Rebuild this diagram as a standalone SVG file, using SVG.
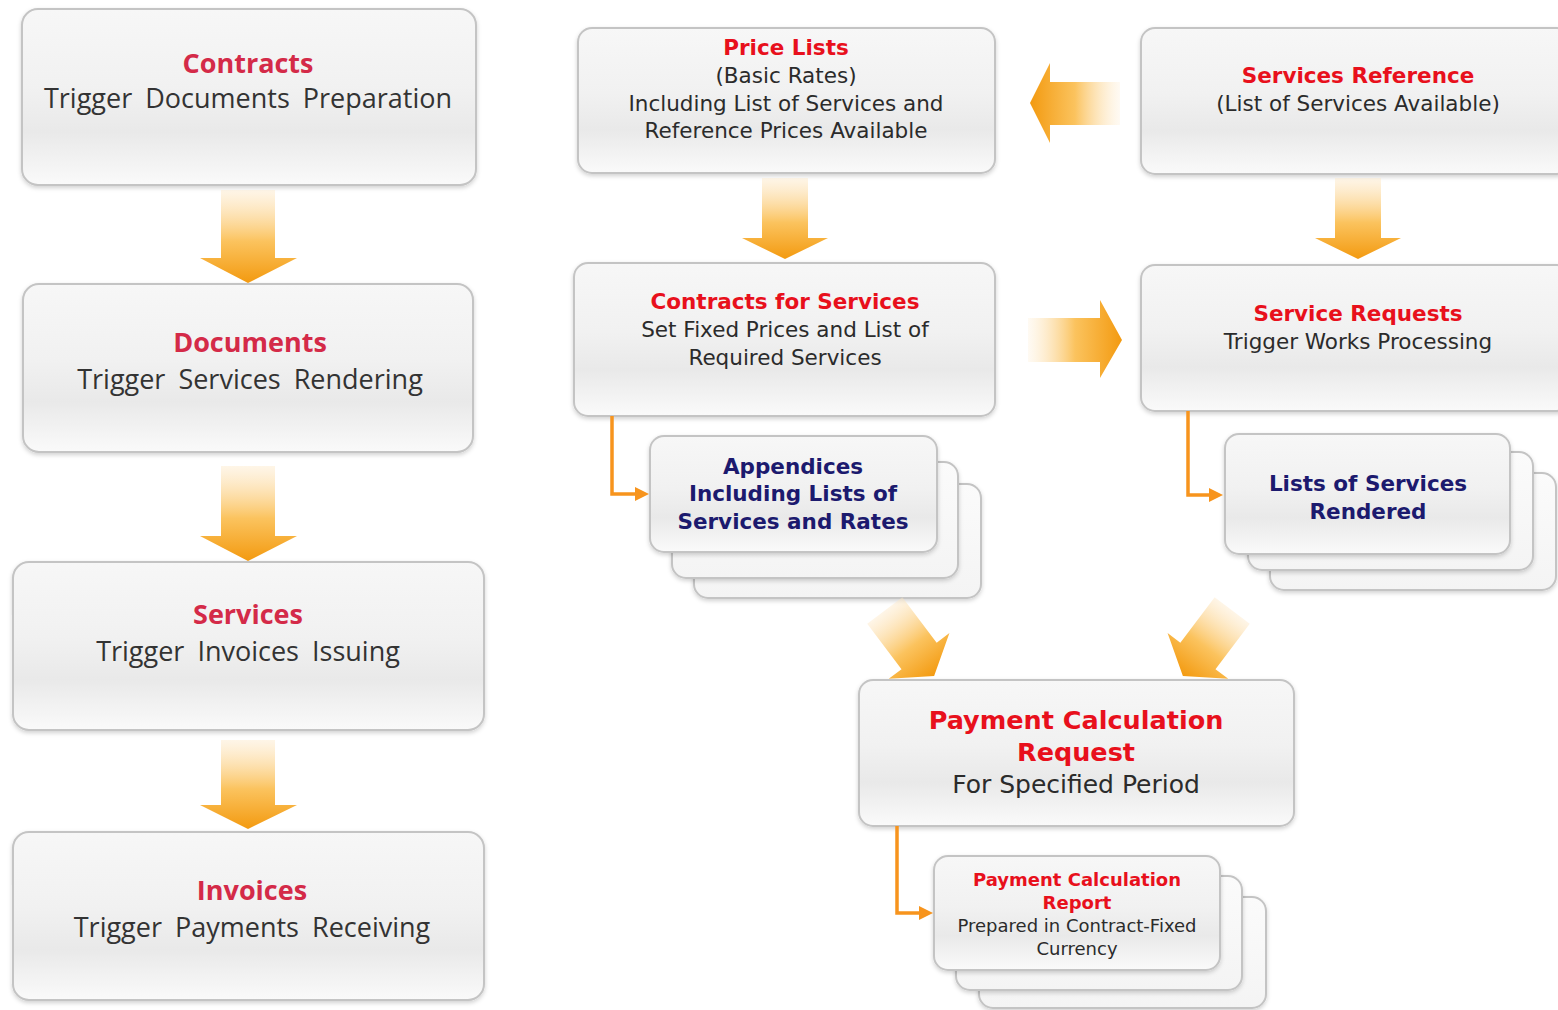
<svg xmlns="http://www.w3.org/2000/svg" width="1558" height="1010" viewBox="0 0 1558 1010">
<defs>
  <linearGradient id="boxFill" x1="0" y1="0" x2="0" y2="1">
    <stop offset="0" stop-color="#f7f7f7"/>
    <stop offset="0.45" stop-color="#f1f1f1"/>
    <stop offset="0.7" stop-color="#e9e9e9"/>
    <stop offset="1" stop-color="#fafafa"/>
  </linearGradient>
  <linearGradient id="backFill" x1="0" y1="0" x2="0" y2="1">
    <stop offset="0" stop-color="#fbfbfb"/>
    <stop offset="1" stop-color="#f4f4f4"/>
  </linearGradient>
  <linearGradient id="arrowDown" x1="0" y1="0" x2="0" y2="1">
    <stop offset="0" stop-color="#fde7c4" stop-opacity="0.4"/>
    <stop offset="0.55" stop-color="#fbc35e"/>
    <stop offset="1" stop-color="#f39a10"/>
  </linearGradient>
  <linearGradient id="arrowLeft" x1="1" y1="0" x2="0" y2="0">
    <stop offset="0" stop-color="#fde7c4" stop-opacity="0.2"/>
    <stop offset="0.5" stop-color="#fbc35e"/>
    <stop offset="1" stop-color="#f39a10"/>
  </linearGradient>
  <linearGradient id="arrowRight" x1="0" y1="0" x2="1" y2="0">
    <stop offset="0" stop-color="#fde7c4" stop-opacity="0.2"/>
    <stop offset="0.5" stop-color="#fbc35e"/>
    <stop offset="1" stop-color="#f39a10"/>
  </linearGradient>
  <filter id="shadow" x="-5%" y="-5%" width="110%" height="115%">
    <feDropShadow dx="0" dy="2" stdDeviation="2" flood-color="#000" flood-opacity="0.18"/>
  </filter>
  <marker id="tri" markerUnits="userSpaceOnUse" markerWidth="14" markerHeight="14" refX="1" refY="7" orient="auto">
    <path d="M0,0 L14,7 L0,14 z" fill="#f7941d"/>
  </marker>
  <style>
    .box { fill: url(#boxFill); stroke: #c4c4c4; stroke-width: 2; filter: url(#shadow); }
    .back { fill: url(#backFill); stroke: #c4c4c4; stroke-width: 2; filter: url(#shadow); }
    .lt { font-family: "Open Sans", "Noto Sans", sans-serif; text-anchor: middle; }
    .lt-title { font-size: 27px; font-weight: bold; fill: #d42a48; }
    .lt-sub { font-size: 27px; fill: #333333; word-spacing: 6px; }
    .mt { font-family: "DejaVu Sans", Verdana, sans-serif; text-anchor: middle; }
    .red { font-weight: bold; fill: #e8101c; }
    .blk { fill: #2b2b2b; }
    .navy { font-weight: bold; fill: #1c1a6e; }
    .conn { fill: none; stroke: #f7941d; stroke-width: 3.5; }
  </style>
</defs>

<rect x="0" y="0" width="1558" height="1010" fill="#ffffff"/>

<!-- Left column nodes -->
<g id="node-contracts">
  <rect class="box" x="22" y="9" width="454" height="176" rx="16"/>
  <text class="lt lt-title" x="248" y="73">Contracts</text>
  <text class="lt lt-sub" x="248" y="108">Trigger Documents Preparation</text>
</g>
<g id="node-documents">
  <rect class="box" x="23" y="284" width="450" height="168" rx="16"/>
  <text class="lt lt-title" x="250" y="352">Documents</text>
  <text class="lt lt-sub" x="250" y="389">Trigger Services Rendering</text>
</g>
<g id="node-services">
  <rect class="box" x="13" y="562" width="471" height="168" rx="16"/>
  <text class="lt lt-title" x="248" y="624">Services</text>
  <text class="lt lt-sub" x="248" y="661">Trigger Invoices Issuing</text>
</g>
<g id="node-invoices">
  <rect class="box" x="13" y="832" width="471" height="168" rx="16"/>
  <text class="lt lt-title" x="252" y="900">Invoices</text>
  <text class="lt lt-sub" x="252" y="937">Trigger Payments Receiving</text>
</g>

<!-- Middle / right nodes -->
<g id="node-price-lists">
  <rect class="box" x="578" y="28" width="417" height="145" rx="14"/>
  <text class="mt red" x="786" y="55" font-size="21.5">Price Lists</text>
  <text class="mt blk" x="786" y="83" font-size="21.5">(Basic Rates)</text>
  <text class="mt blk" x="786" y="111" font-size="21.5">Including List of Services and</text>
  <text class="mt blk" x="786" y="138" font-size="21.5">Reference Prices Available</text>
</g>
<g id="node-services-reference">
  <rect class="box" x="1141" y="28" width="430" height="146" rx="14"/>
  <text class="mt red" x="1358" y="83" font-size="21.5">Services Reference</text>
  <text class="mt blk" x="1358" y="111" font-size="21.5">(List of Services Available)</text>
</g>
<g id="node-contracts-for-services">
  <rect class="box" x="574" y="263" width="421" height="153" rx="14"/>
  <text class="mt red" x="785" y="309" font-size="21.5">Contracts for Services</text>
  <text class="mt blk" x="785" y="337" font-size="21.5">Set Fixed Prices and List of</text>
  <text class="mt blk" x="785" y="365" font-size="21.5">Required Services</text>
</g>
<g id="node-service-requests">
  <rect class="box" x="1141" y="265" width="430" height="146" rx="14"/>
  <text class="mt red" x="1358" y="321" font-size="21.5">Service Requests</text>
  <text class="mt blk" x="1358" y="349" font-size="21.5">Trigger Works Processing</text>
</g>
<g id="node-appendices">
  <rect class="back" x="694" y="484" width="287" height="114" rx="14"/>
  <rect class="back" x="672" y="462" width="286" height="116" rx="14"/>
  <rect class="box" x="650" y="436" width="287" height="116" rx="14"/>
  <text class="mt navy" x="793" y="474" font-size="21.5">Appendices</text>
  <text class="mt navy" x="793" y="501" font-size="21.5">Including Lists of</text>
  <text class="mt navy" x="793" y="529" font-size="21.5">Services and Rates</text>
</g>
<g id="node-lists-rendered">
  <rect class="back" x="1270" y="473" width="286" height="117" rx="14"/>
  <rect class="back" x="1248" y="452" width="285" height="118" rx="14"/>
  <rect class="box" x="1225" y="434" width="285" height="120" rx="14"/>
  <text class="mt navy" x="1368" y="491" font-size="21.5">Lists of Services</text>
  <text class="mt navy" x="1368" y="519" font-size="21.5">Rendered</text>
</g>
<g id="node-payment-request">
  <rect class="box" x="859" y="680" width="435" height="146" rx="14"/>
  <text class="mt red" x="1076" y="729" font-size="25.5">Payment Calculation</text>
  <text class="mt red" x="1076" y="761" font-size="25.5">Request</text>
  <text class="mt blk" x="1076" y="793" font-size="25">For Specified Period</text>
</g>
<g id="node-payment-report">
  <rect class="back" x="979" y="897" width="287" height="111" rx="14"/>
  <rect class="back" x="956" y="876" width="286" height="114" rx="14"/>
  <rect class="box" x="934" y="856" width="286" height="114" rx="14"/>
  <text class="mt red" x="1077" y="886" font-size="18">Payment Calculation</text>
  <text class="mt red" x="1077" y="909" font-size="18">Report</text>
  <text class="mt blk" x="1077" y="932" font-size="18">Prepared in Contract-Fixed</text>
  <text class="mt blk" x="1077" y="955" font-size="18">Currency</text>
</g>

<!-- Connectors -->
<g id="connectors">
  <path fill="url(#arrowDown)" d="M221,190 H275 V258 H297 L248,283 L200,258 H221 Z"/>
  <path fill="url(#arrowDown)" d="M221,466 H275 V536 H297 L248,561 L200,536 H221 Z"/>
  <path fill="url(#arrowDown)" d="M221,740 H275 V805 H297 L248,829 L200,805 H221 Z"/>
  <path fill="url(#arrowDown)" d="M762,178 H808 V238 H828 L785,259 L742,238 H762 Z"/>
  <path fill="url(#arrowDown)" d="M1335,178 H1381 V238 H1401 L1358,259 L1315,238 H1335 Z"/>
  <path fill="url(#arrowLeft)" d="M1120,82 V125 H1050 V143 L1030,103 L1050,63 V82 Z"/>
  <path fill="url(#arrowRight)" d="M1028,318 V362 H1100 V378 L1122,340 L1100,300 V318 Z"/>
  <path fill="url(#arrowDown)" transform="translate(892,620) rotate(-37)" d="M-22,-12 H22 V45 H38 L0,70 L-38,45 H-22 Z"/>
  <path fill="url(#arrowDown)" transform="translate(1225,620) rotate(37)" d="M-22,-12 H22 V45 H38 L0,70 L-38,45 H-22 Z"/>
  <path class="conn" d="M612,416 V494 H636" marker-end="url(#tri)"/>
  <path class="conn" d="M1188,411 V495 H1210" marker-end="url(#tri)"/>
  <path class="conn" d="M897,826 V913 H920" marker-end="url(#tri)"/>
</g>
</svg>
